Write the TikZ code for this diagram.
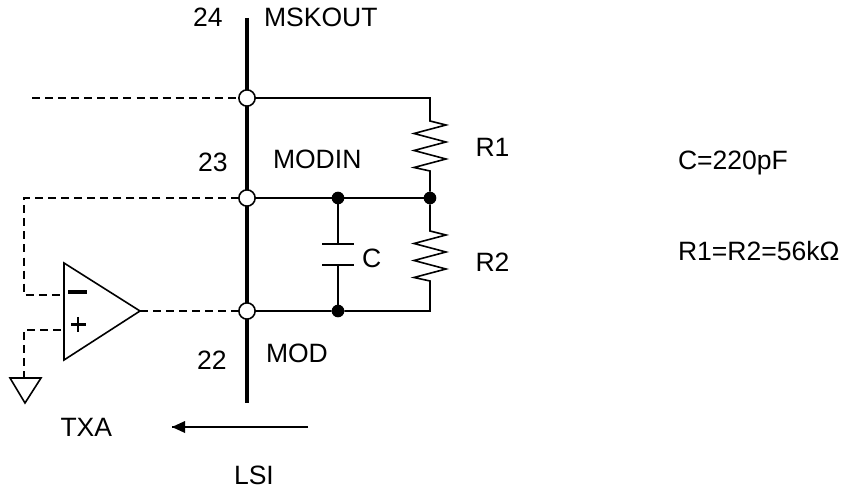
\documentclass[tikz,border=0pt]{standalone}
\usepackage{fontspec}
\setmainfont{Liberation Sans}
\usepackage{tikz}
\tikzset{
    pin/.style={circle,draw,fill=white,minimum size=12.2pt,inner sep=0pt,outer sep=0pt,line width=1.2pt},
    dot/.style={circle,fill=black,minimum size=9.5pt,inner sep=0pt,outer sep=0pt},
    lab/.style={anchor=base west,inner sep=0pt,outer sep=0pt,font=\fontsize{19.9}{22}\selectfont},
    ins/.style={dashed,dash pattern=on 6pt off 3.8pt,line width=1.2pt},
    resistor/.style={to path={-- ++(0,#1) -- ++(16,4) -- ++(-32,8.5) -- ++(32,8.5) -- ++(-32,8.5) -- ++(32,8.5) -- ++(-32,8.5) -- ++(16,3.5) -- (\tikztotarget)}}
}
\begin{document}
\begin{tikzpicture}[x=.75pt,y=-.75pt,line width=1.2pt,line join=miter]
    \useasboundingbox (0,0) rectangle (846,488);

    % bus and its pins
    \coordinate (bt) at (247,18);
    \coordinate (bb) at (247,403);
    \draw[line width=2.4pt] (bt) -- (bb);
    \foreach \k/\y in {24/98,23/198,22/311}
        \node[pin] (p\k) at (247,\y) {};

    % joints
    \node[dot] (j1) at (338,198) {};
    \node[dot] (j2) at (430,198) {};
    \node[dot] (j3) at (338,311) {};
    \coordinate (c1) at (430,98);
    \coordinate (c2) at (430,311);

    % wires and resistors
    \draw (p24) -- (c1) to[resistor=23] (j2);
    \draw (j2) to[resistor=33] (c2) -- (j3) -- (p22);
    \draw[line width=1.5pt] (p23) -- (j1) -- (j2);

    % capacitor
    \coordinate (cu) at (338,244);
    \coordinate (cd) at (338,265);
    \draw (j1) -- (cu);
    \draw (j3) -- (cd);
    \draw (322,244) -- (354,244);
    \draw (322,265) -- (354,265);

    % amplifier
    \coordinate (a1) at (64,263);
    \coordinate (a2) at (64,360);
    \coordinate (a3) at (140,311);
    \draw (a1) -- (a3) -- (a2) -- cycle;
    \draw[line width=2.4pt] (68,292) -- (87,292);
    \draw[line width=1.6pt] (78,317) -- (78,332) (71,324.5) -- (86,324.5);

    % ground
    \coordinate (g1) at (10,378);
    \coordinate (g2) at (41,378);
    \coordinate (g3) at (25,403);
    \draw (g1) -- (g2) -- (g3) -- cycle;

    % dashed lines
    \coordinate (d1) at (32,98);
    \coordinate (d2) at (24,198);
    \coordinate (d3) at (24,295);
    \coordinate (d4) at (24,330);
    \coordinate (d5) at (64,295);
    \coordinate (d6) at (61,330);
    \coordinate (d7) at (24,378);
    \draw[ins] (d1) -- (p24);
    \draw[ins] (p23) -- (d2) -- (d3) -- (d5);
    \draw[ins] (d6) -- (d4) -- (d7);
    \draw[ins] (a3) -- (p22);

    % arrow
    \coordinate (ar1) at (308,427);
    \coordinate (ar2) at (172,427);
    \draw (ar1) -- (ar2);
    \fill (ar2) -- ++(13,-6) -- ++(0,12) -- cycle;

    % labels
    \node[lab] (l24) at (193,27) {24};
    \node[lab] (lmsk) at (264,27) {MSKOUT};
    \node[lab] (l23) at (198,172) {23};
    \node[lab] (lmodin) at (273,169) {MODIN};
    \node[lab] (lr1) at (475.5,157) {R1};
    \node[lab] (lr2) at (475.5,272) {R2};
    \node[lab] (lc) at (362,268) {C};
    \node[lab] (lval1) at (678,170) {C=220pF};
    \node[lab] (lval2) at (678,261) {R1=R2=56kΩ};
    \node[lab] (l22) at (197,369) {22};
    \node[lab] (lmod) at (266,363) {MOD};
    \node[lab] (ltxa) at (60.5,436) {TXA};
    \node[lab] (llsi) at (234,484) {LSI};
\end{tikzpicture}
\end{document}
